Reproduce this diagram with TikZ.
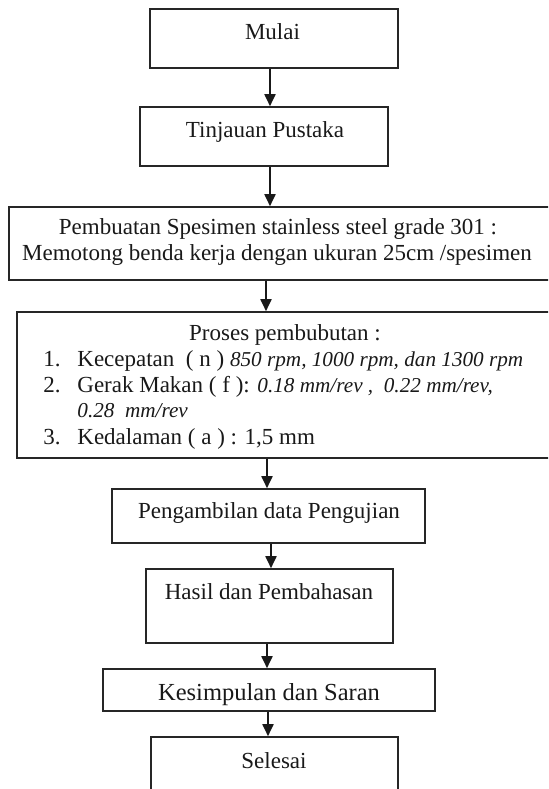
\documentclass[tikz,border=0pt]{standalone}
\usepackage{fontspec}
\setmainfont{Liberation Serif}
\usetikzlibrary{arrows.meta}
\newcommand\itx[1]{{\fontsize{10.6}{13}\selectfont\itshape #1}}
\begin{document}
\begin{tikzpicture}[x=0.5pt,y=-0.5pt,
  box/.style={draw=black!85, line width=0.8pt, rectangle, inner sep=0pt},
  txt/.style={inner sep=0pt, anchor=base, text=black!90, font=\fontsize{11.5}{13}\selectfont},
  txtl/.style={txt, anchor=base west},
  arr/.style={draw=black!90, line width=0.9pt, -{Triangle[width=5.5pt,length=6pt]}}]
\useasboundingbox (0,0) rectangle (548,789);
\clip (0,0) rectangle (548,789);
% boxes
\node[box, minimum width=124pt, minimum height=29.5pt] (mulai) at (274,38.5) {};
\node[box, minimum width=124pt, minimum height=29.5pt] (tinj) at (264,136.5) {};
\node[box, minimum width=273.5pt, minimum height=36.5pt] (pemb) at (282.5,243.5) {};
\node[box, minimum width=269.5pt, minimum height=73pt] (proses) at (286.5,385) {};
\node[box, minimum width=156.5pt, minimum height=27pt] (peng) at (268.5,516) {};
\node[box, minimum width=123.5pt, minimum height=37pt] (hasil) at (269.5,606) {};
\node[box, minimum width=166pt, minimum height=21pt] (kesim) at (269,690) {};
\node[box, minimum width=123.5pt, minimum height=31.5pt] (selesai) at (274.5,768.5) {};
% texts
\node[txt] (tmulai) at (272.5,39) {Mulai};
\node[txt] (ttinj) at (265,137) {Tinjauan Pustaka};
\node[txt] (tpemb1) at (278,234) {Pembuatan Spesimen stainless steel grade 301 :};
\node[txt] (tpemb2) at (277,260) {Memotong benda kerja dengan ukuran 25cm /spesimen};
\node[txt] (tproses) at (285,340) {Proses pembubutan :};
\node[txtl] (n1) at (43,366) {1.};
\node[txtl] (l1) at (77,366) {Kecepatan \ ( n ) \itx{850 rpm, 1000 rpm, dan 1300 rpm}};
\node[txtl] (n2) at (43,392) {2.};
\node[txtl] (l2) at (77,392) {Gerak Makan ( f\ ): \itx{0.18 mm/rev ,\ \ 0.22 mm/rev,}};
\node[txtl] (l2b) at (77,417) {\itx{0.28\ \ mm/rev}};
\node[txtl] (n3) at (43,444) {3.};
\node[txtl] (l3) at (77,444) {Kedalaman ( a ) : 1,5 mm};
\node[txt] (tpeng) at (269,518) {Pengambilan data Pengujian};
\node[txt] (thasil) at (269,599) {Hasil dan Pembahasan};
\node[txt, font=\fontsize{12.25}{14}\selectfont] (tkesim) at (269,700) {Kesimpulan dan Saran};
\node[txt] (tselesai) at (274,768) {Selesai};
% arrows
\draw[arr] (mulai.south -| 270,0) -- (tinj.north -| 270,0);
\draw[arr] (tinj.south -| 270,0) -- (pemb.north -| 270,0);
\draw[arr] (pemb.south -| 266,0) -- (proses.north -| 266,0);
\draw[arr] (proses.south -| 267,0) -- (peng.north -| 267,0);
\draw[arr] (peng.south -| 271,0) -- (hasil.north -| 271,0);
\draw[arr] (hasil.south -| 267,0) -- (kesim.north -| 267,0);
\draw[arr] (kesim.south -| 268,0) -- (selesai.north -| 268,0);
\end{tikzpicture}
\end{document}
